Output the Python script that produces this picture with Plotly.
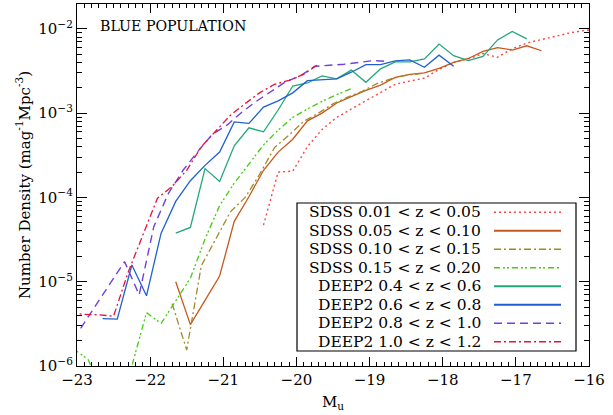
import plotly.graph_objects as go

# ---------------- data ----------------
sdss1_x = [-20.45, -20.25, -20.05, -19.85, -19.65, -19.45, -19.25, -19.05, -18.85, -18.65,
           -18.45, -18.25, -18.05, -17.85, -17.65, -17.45, -17.25, -17.05, -16.85, -16.65,
           -16.45, -16.25, -16.05, -15.85]
sdss1_y = [4.7e-5, 2.0e-4, 2.05e-4, 4.0e-4, 6.4e-4, 8.9e-4, 1.12e-3, 1.4e-3, 1.75e-3, 2.2e-3,
           2.4e-3, 2.6e-3, 3.3e-3, 4.0e-3, 4.4e-3, 5.1e-3, 4.6e-3, 5.8e-3, 6.8e-3, 7.5e-3,
           8.3e-3, 9.0e-3, 9.6e-3, 1.0e-2]

sdss2_x = [-21.65, -21.45, -21.25, -21.05, -20.85, -20.65, -20.45, -20.25, -20.05, -19.85,
           -19.65, -19.45, -19.25, -19.05, -18.85, -18.65, -18.45, -18.25, -18.05, -17.85,
           -17.65, -17.45, -17.25, -17.05, -16.85, -16.65]
sdss2_y = [1.0e-5, 3.1e-6, 6.0e-6, 1.17e-5, 5.2e-5, 1.02e-4, 2.1e-4, 3.45e-4, 4.9e-4, 8.1e-4,
           1.0e-3, 1.32e-3, 1.57e-3, 1.86e-3, 2.15e-3, 2.65e-3, 2.88e-3, 3.0e-3, 3.4e-3, 4.0e-3,
           4.45e-3, 5.4e-3, 6.0e-3, 5.6e-3, 6.3e-3, 5.5e-3]

sdss3_x = [-21.7, -21.5, -21.3, -21.1, -20.9, -20.7, -20.5, -20.3, -20.1, -19.9,
           -19.7, -19.5, -19.3, -19.1, -18.9, -18.7, -18.5, -18.3]
sdss3_y = [5.5e-6, 1.55e-6, 1.55e-5, 3.2e-5, 6.8e-5, 1.0e-4, 1.9e-4, 3.9e-4, 5.5e-4, 8.0e-4,
           1.0e-3, 1.29e-3, 1.55e-3, 1.82e-3, 2.24e-3, 2.57e-3, 2.8e-3, 2.95e-3]

sdss4_x = [-23.05, -22.85, -22.65, -22.45, -22.25, -22.05, -21.85, -21.65, -21.45, -21.25,
           -21.05, -20.85, -20.65, -20.45, -20.25, -20.05, -19.85, -19.65, -19.45, -19.25]
sdss4_y = [1.6e-6, 1.2e-6, 5.0e-7, 4.0e-7, 1.0e-6, 4.3e-6, 3.2e-6, 6.0e-6, 1.1e-5, 3.2e-5,
           8.0e-5, 1.48e-4, 2.5e-4, 4.2e-4, 6.3e-4, 8.9e-4, 1.12e-3, 1.38e-3, 1.66e-3, 1.95e-3]

deep1_x = [-21.65, -21.45, -21.25, -21.05, -20.85, -20.65, -20.45, -20.25, -20.05, -19.85,
           -19.65, -19.45, -19.25, -19.05, -18.85, -18.65, -18.45, -18.25, -18.05, -17.85,
           -17.65, -17.45, -17.25, -17.05, -16.85]
deep1_y = [3.77e-5, 4.4e-5, 2.2e-4, 1.55e-4, 4.1e-4, 6.7e-4, 6.0e-4, 1.09e-3, 2.1e-3, 2.28e-3,
           2.77e-3, 2.55e-3, 3.24e-3, 2.32e-3, 3.35e-3, 4.06e-3, 4.06e-3, 4.4e-3, 6.6e-3, 4.8e-3,
           4.2e-3, 4.7e-3, 7.4e-3, 9.3e-3, 7.6e-3]

deep2_x = [-22.65, -22.45, -22.25, -22.05, -21.85, -21.65, -21.45, -21.25, -21.05, -20.85,
           -20.65, -20.45, -20.25, -20.05, -19.85, -19.65, -19.45, -19.25, -19.05, -18.85,
           -18.65, -18.45, -18.25, -18.05, -17.85]
deep2_y = [3.65e-6, 3.6e-6, 1.58e-5, 6.8e-6, 3.77e-5, 8.96e-5, 1.58e-4, 2.4e-4, 3.46e-4, 7.86e-4,
           7.57e-4, 1.18e-3, 1.4e-3, 1.74e-3, 2.43e-3, 2.5e-3, 2.55e-3, 3.06e-3, 3.77e-3, 3.77e-3,
           4.17e-3, 4.28e-3, 3.5e-3, 4.87e-3, 3.6e-3]

deep3_x = [-22.95, -22.75, -22.55, -22.35, -22.15, -21.95, -21.75, -21.55, -21.35, -21.15,
           -20.95, -20.75, -20.55, -20.35, -20.15, -19.95, -19.75, -19.55, -19.35, -19.15,
           -18.95, -18.75]
deep3_y = [2.8e-6, 5.2e-6, 9.6e-6, 1.73e-5, 7.0e-6, 4.5e-5, 1.12e-4, 2.1e-4, 3.5e-4, 5.6e-4,
           7.2e-4, 1.02e-3, 1.38e-3, 1.82e-3, 2.35e-3, 2.75e-3, 3.6e-3, 3.7e-3, 3.8e-3, 4.0e-3,
           4.2e-3, 4.1e-3]

deep4_x = [-23.1, -22.9, -22.7, -22.5, -22.3, -22.1, -21.9, -21.7, -21.5, -21.3,
           -21.1, -20.9, -20.7, -20.5, -20.3, -20.1, -19.9, -19.7]
deep4_y = [4.3e-6, 4.1e-6, 4.05e-6, 3.9e-6, 1.3e-5, 3.6e-5, 9.8e-5, 1.35e-4, 2.1e-4, 4.0e-4,
           6.2e-4, 9.5e-4, 1.3e-3, 1.75e-3, 2.2e-3, 2.45e-3, 2.9e-3, 3.8e-3]

labels = ["SDSS 0.01 < z < 0.05", "SDSS 0.05 < z < 0.10", "SDSS 0.10 < z < 0.15",
          "SDSS 0.15 < z < 0.20", "DEEP2 0.4 < z < 0.6", "DEEP2 0.6 < z < 0.8",
          "DEEP2 0.8 < z < 1.0", "DEEP2 1.0 < z < 1.2"]

x_tick_vals = [-23, -22, -21, -20, -19, -18, -17, -16]
x_tick_text = ["\u221223", "\u221222", "\u221221", "\u221220", "\u221219", "\u221218", "\u221217", "\u221216"]
y_tick_vals = [1e-6, 1e-5, 1e-4, 1e-3, 1e-2]
y_tick_text = ["10<sup>\u22126</sup>", "10<sup>\u22125</sup>", "10<sup>\u22124</sup>",
               "10<sup>\u22123</sup>", "10<sup>\u22122</sup>"]
y_minor_vals = [m * 10.0 ** e for e in range(-6, -1) for m in range(2, 10)]

# ---------------- styles ----------------
series = [(sdss1_x, sdss1_y), (sdss2_x, sdss2_y), (sdss3_x, sdss3_y), (sdss4_x, sdss4_y),
          (deep1_x, deep1_y), (deep2_x, deep2_y), (deep3_x, deep3_y), (deep4_x, deep4_y)]
colors = ["#ff4545", "#c8581c", "#a08a28", "#44cc11", "#22a878", "#2060d0", "#7040e0", "#e8103c"]
dashes = ["2px,3px", "solid", "7px,3px,2px,3px", "6px,3px,2px,2px,2px,3px",
          "solid", "solid", "8px,5px", "7px,3px,2px,3px"]
widths = [1.4, 1.3, 1.3, 1.3, 1.3, 1.3, 1.4, 1.3]

FONT = "DejaVu Serif"

fig = go.Figure()
for (xs, ys), c, d, w, name in zip(series, colors, dashes, widths, labels):
    fig.add_trace(go.Scatter(x=xs, y=ys, mode="lines", name=name,
                             line=dict(color=c, dash=d, width=w), showlegend=False))

# ---------------- custom legend (text left, sample right) ----------------
L, R, T, B = 77, 24, 4, 49
W, H = 613 - L - R, 415 - T - B
def px(xp):
    return (xp - L) / W
def py(yp):
    return (415 - B - yp) / H

box_x0, box_x1, box_y0, box_y1 = 297, 576, 203, 351
fig.add_shape(type="rect", xref="paper", yref="paper", x0=px(box_x0), x1=px(box_x1),
              y0=py(box_y1), y1=py(box_y0), line=dict(color="black", width=1.2),
              fillcolor="white", layer="above")
row_h = (box_y1 - box_y0) / len(labels)
for i, (name, c, d) in enumerate(zip(labels, colors, dashes)):
    yc = box_y0 + row_h * (i + 0.5)
    fig.add_annotation(xref="paper", yref="paper", x=px(483), y=py(yc), text=name,
                       showarrow=False, xanchor="right", yanchor="middle",
                       font=dict(family=FONT, size=15.5, color="black"))
    fig.add_shape(type="line", xref="paper", yref="paper", x0=px(494), x1=px(561),
                  y0=py(yc), y1=py(yc), line=dict(color=c, dash=d, width=1.8 if d == "solid" else 1.6),
                  layer="above")

fig.add_annotation(xref="paper", yref="paper", x=px(98), y=py(26), text="BLUE POPULATION",
                   showarrow=False, xanchor="left", yanchor="middle",
                   font=dict(family=FONT, size=14.2, color="black"))

axis_common = dict(showline=True, linecolor="black", linewidth=1.3, mirror="allticks",
                   ticks="inside", tickcolor="black", showgrid=False, zeroline=False,
                   tickfont=dict(family=FONT, size=15, color="black"))

fig.update_xaxes(range=[-23, -16], tickvals=x_tick_vals, ticktext=x_tick_text, ticklen=9,
                 tickwidth=1.1,
                 minor=dict(dtick=0.1, ticks="inside", ticklen=4, tickcolor="black", tickwidth=1),
                 title=dict(text="M<sub>u</sub>", font=dict(family=FONT, size=15, color="black"),
                            standoff=8),
                 **axis_common)
fig.update_yaxes(type="log", range=[-6, -1.705], tickvals=y_tick_vals, ticktext=y_tick_text,
                 ticklen=10, tickwidth=1.1,
                 minor=dict(tickvals=y_minor_vals, ticks="inside", ticklen=5, tickcolor="black",
                            tickwidth=1),
                 title=dict(text="Number Density (mag<sup>-1</sup>Mpc<sup>-3</sup>)",
                            font=dict(family=FONT, size=15, color="black"), standoff=4),
                 **axis_common)

fig.update_layout(width=613, height=415, margin=dict(l=L, r=R, t=T, b=B),
                  paper_bgcolor="white", plot_bgcolor="white", showlegend=False)

fig.write_html("out.html")
